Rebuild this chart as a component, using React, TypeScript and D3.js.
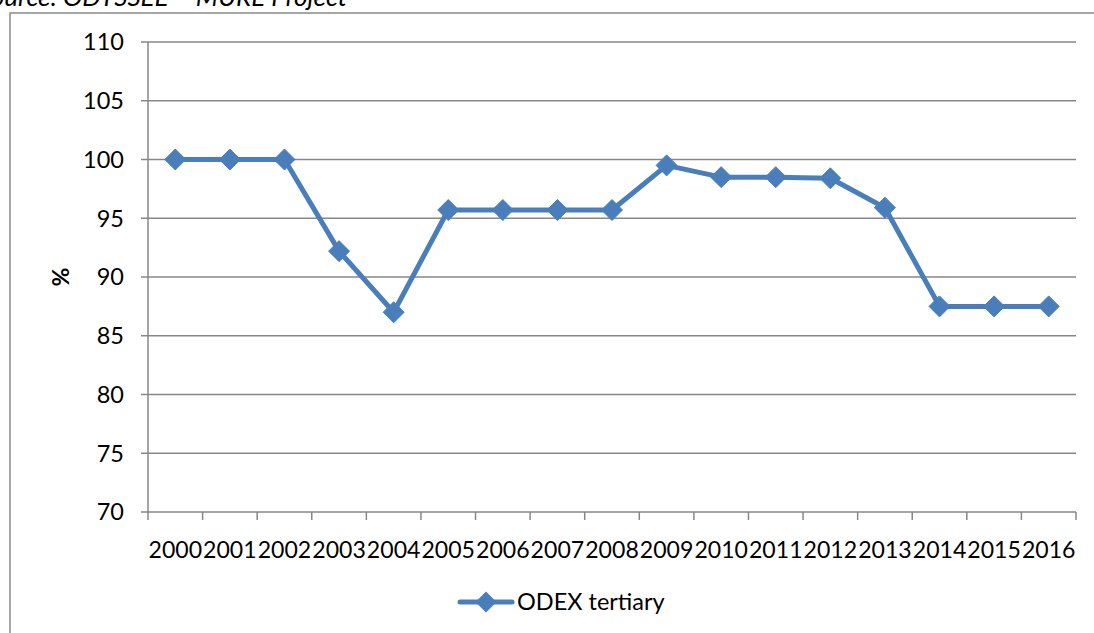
import React from "react";
import * as d3 from "d3";

const years = ["2000","2001","2002","2003","2004","2005","2006","2007","2008","2009","2010","2011","2012","2013","2014","2015","2016"];
const odexTertiary = [100, 100, 100, 92.2, 87.0, 95.7, 95.7, 95.7, 95.7, 99.5, 98.5, 98.5, 98.4, 95.9, 87.5, 87.5, 87.5];
const yTicks = [70, 75, 80, 85, 90, 95, 100, 105, 110];
const seriesName = "ODEX tertiary";
const sourceText = "Source: ODYSSEE – MURE Project";

const W = 1094, H = 633;
const FONT = "Lato, 'Open Sans', sans-serif";

export default function App() {
  const x = d3.scaleBand().domain(years).range([148, 1076]).padding(0);
  const y = d3.scaleLinear().domain([70, 110]).range([512, 42]);
  const line = d3.line<number>()
    .x((_, i) => (x(years[i]) as number) + x.bandwidth() / 2)
    .y((d) => y(d));
  const diamond = (cx: number, cy: number, r: number) =>
    `M${cx},${cy - r}L${cx + r},${cy}L${cx},${cy + r}L${cx - r},${cy}Z`;
  const bandEdges = years.map((yr) => x(yr) as number).concat([1076]);
  const color = "#4A7EBB";
  const gridColor = "#878787";

  return (
    <svg width={W} height={H} style={{ position: "absolute", left: 0, top: 0, background: "#fff" }}>
      <rect x={0} y={0} width={W} height={H} fill="#fff" />
      <text x={347} y={6} textAnchor="end" fontFamily={FONT} fontStyle="italic" fontSize={26} fill="#000">
        {sourceText}
      </text>
      {/* outer chart border */}
      <path d={`M10,${H + 5}L10,13L${W + 5},13`} fill="none" stroke="#898989" strokeWidth={1.5} />
      {/* gridlines */}
      {yTicks.map((t) => (
        <line key={"g" + t} x1={141} x2={1076} y1={y(t)} y2={y(t)} stroke={gridColor} strokeWidth={1.3} />
      ))}
      {/* y axis */}
      <line x1={148} x2={148} y1={y(110)} y2={y(70)} stroke={gridColor} strokeWidth={1.5} />
      {/* x ticks */}
      {bandEdges.map((e, i) => (
        <line key={"t" + i} x1={e} x2={e} y1={512} y2={520} stroke={gridColor} strokeWidth={1.5} />
      ))}
      {/* y tick labels */}
      {yTicks.map((t) => (
        <text key={"yl" + t} x={124} y={y(t)} dy="0.36em" textAnchor="end" fontFamily={FONT} fontSize={23.5} fill="#000">
          {t}
        </text>
      ))}
      {/* x labels */}
      {years.map((yr) => (
        <text key={"xl" + yr} x={(x(yr) as number) + x.bandwidth() / 2} y={558} textAnchor="middle"
          fontFamily={FONT} fontSize={23.5} fill="#000" textLength={x.bandwidth() - 1} lengthAdjust="spacingAndGlyphs">
          {yr}
        </text>
      ))}
      {/* y axis title */}
      <text transform={`translate(69,277) rotate(-90)`} textAnchor="middle" fontFamily={FONT} fontWeight="bold" fontSize={23} fill="#000">
        %
      </text>
      {/* series */}
      <path d={line(odexTertiary) || ""} fill="none" stroke={color} strokeWidth={5} strokeLinejoin="round" strokeLinecap="round" />
      {odexTertiary.map((v, i) => (
        <path key={"m" + i} d={diamond((x(years[i]) as number) + x.bandwidth() / 2, y(v), 10.5)} fill={color} stroke={color} strokeWidth={1} />
      ))}
      {/* legend */}
      <line x1={460} x2={512} y1={602} y2={602} stroke={color} strokeWidth={5} strokeLinecap="round" />
      <path d={diamond(486, 602, 10.5)} fill={color} />
      <text x={517} y={610} fontFamily={FONT} fontSize={23.5} fill="#000">{seriesName}</text>
    </svg>
  );
}
